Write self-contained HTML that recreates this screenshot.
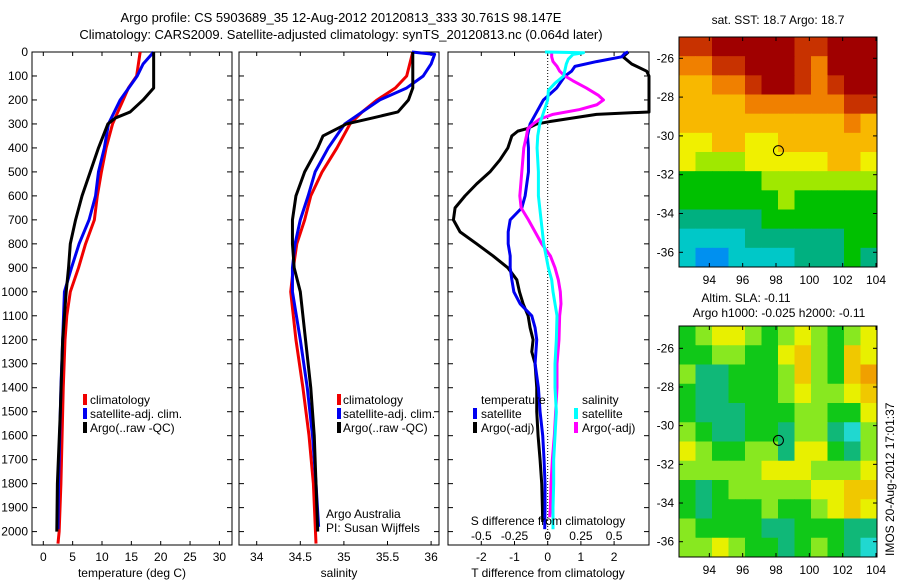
<!DOCTYPE html>
<html><head><meta charset="utf-8"><style>
html,body{margin:0;padding:0;background:#fff;}
svg{display:block;font-family:"Liberation Sans",sans-serif;}
</style></head><body>
<svg id="fig" width="900" height="580" viewBox="0 0 900 580">
<g font-size="13" text-anchor="middle">
<text x="341" y="22">Argo profile: CS 5903689_35 12-Aug-2012 20120813_333 30.761S 98.147E</text>
<text x="341" y="39">Climatology: CARS2009. Satellite-adjusted climatology: synTS_20120813.nc (0.064d later)</text>
</g>
<g id="root"></g>
</svg>
<script>
// ---------- data ----------
const tDepth = [0,50,100,150,200,250,300,400,500,600,700,800,900,1000,1100,1200,1400,1600,1800,2000,2050];
const tClim  = [16.5,16.2,15.9,14.5,13.6,12.7,11.8,10.7,9.9,9.2,8.7,7.2,6.0,4.6,4.0,3.7,3.4,3.2,3.0,2.7,2.5];
const tSatDepth = [0,50,100,200,300,400,500,600,700,800,900,1000,1200,1400,1600,1800,1990];
const tSat   = [18.8,17.0,16.0,13.1,11.1,10.4,9.4,8.9,7.8,6.1,4.8,3.6,3.3,3.0,2.8,2.6,2.5];
const tArgoDepth = [0,150,200,250,275,300,350,400,500,600,700,800,900,1000,1200,1500,1800,2000];
const tArgo  = [18.8,18.8,17.0,14.8,12.3,11.0,10.2,9.4,8.0,6.6,5.5,4.6,4.3,3.9,3.3,2.9,2.4,2.3];

const sClimDepth = [0,100,150,200,250,300,400,500,600,700,800,900,1000,1200,1400,1600,1800,2050];
const sClim = [35.79,35.72,35.59,35.38,35.21,35.07,34.92,34.75,34.62,34.55,34.46,34.42,34.39,34.45,34.53,34.60,34.65,34.68];
const sSatDepth = [0,10,50,100,150,200,250,300,400,500,600,700,800,900,1000,1200,1400,1600,1800,1980];
const sSat = [35.78,36.04,36.0,35.91,35.72,35.41,35.21,35.01,34.82,34.67,34.59,34.50,34.44,34.41,34.41,34.50,34.58,34.64,34.68,34.71];
const sArgoDepth = [0,150,200,250,275,300,350,400,500,600,700,800,900,1000,1200,1400,1600,1800,2000];
const sArgo = [35.79,35.79,35.74,35.62,35.33,35.03,34.76,34.70,34.55,34.45,34.41,34.41,34.43,34.50,34.56,34.62,34.66,34.68,34.70];

const dTArgoDepth = [0,20,50,80,100,250,260,290,300,320,330,350,400,450,500,550,600,650,700,750,800,850,900,950,1000,1050,1100,1150,1200,1250,1300,1400,1500,1600,1700,1800,1900,1960];
const dTArgo = [2.43,2.27,2.53,2.98,3.3,3.3,1.47,0.07,-0.33,-0.63,-0.9,-1.08,-1.2,-1.44,-1.74,-2.14,-2.49,-2.79,-2.84,-2.64,-2.14,-1.65,-1.2,-0.93,-0.85,-0.74,-0.59,-0.53,-0.44,-0.48,-0.38,-0.33,-0.33,-0.29,-0.23,-0.18,-0.16,-0.15];
const dTSatDepth = [0,5,20,40,60,80,100,150,200,250,300,350,400,500,600,650,700,750,800,850,900,950,1000,1050,1100,1150,1200,1300,1400,1500,1600,1700,1800,1900,1990];
const dTSat = [2.42,2.33,2.23,1.47,0.82,0.72,0.52,0.27,-0.13,-0.33,-0.53,-0.61,-0.58,-0.58,-0.68,-0.78,-1.13,-1.19,-1.19,-1.13,-1.13,-1.08,-1.02,-0.83,-0.48,-0.38,-0.33,-0.38,-0.28,-0.23,-0.15,-0.11,-0.08,-0.08,-0.09];
const dSSatDepth = [0,3,10,30,50,100,130,160,200,250,300,350,400,500,600,700,800,900,950,1000,1050,1100,1200,1300,1400,1500,1600,1700,1800,1900,1990];
const dSSat = [-0.02,0.27,0.19,0.155,0.14,0.12,0.055,0.005,0.0,-0.03,-0.06,-0.075,-0.08,-0.07,-0.07,-0.05,-0.03,0.005,0.03,0.04,0.055,0.07,0.065,0.055,0.055,0.065,0.055,0.045,0.045,0.04,0.04];
const dSArgoDepth = [0,20,40,60,80,100,120,150,180,200,220,240,260,280,300,320,350,400,500,600,650,700,750,800,850,900,950,1000,1050,1100,1200,1300,1400,1500,1600,1700,1800,1900,1940];
const dSArgo = [0.03,0.03,0.04,0.07,0.09,0.13,0.19,0.29,0.38,0.42,0.37,0.24,0.04,-0.06,-0.11,-0.15,-0.16,-0.18,-0.195,-0.21,-0.2,-0.145,-0.095,-0.045,0.02,0.055,0.08,0.095,0.1,0.09,0.085,0.07,0.07,0.06,0.05,0.035,0.025,0.02,0.015];

const depthTicks = [0,100,200,300,400,500,600,700,800,900,1000,1100,1200,1300,1400,1500,1600,1700,1800,1900,2000];
const tempTicks = [0,5,10,15,20,25,30];
const salTicks = [34,34.5,35,35.5,36];
const salTickLabels = ['34','34.5','35','35.5','36'];
const dTTicks = [-2,-1,0,1,2];
const dSTicks = [-0.5,-0.25,0,0.25,0.5];
const dSTickLabels = ['-0.5','-0.25','0','0.25','0.5'];

const lonTicks = [94,96,98,100,102,104];
const latTicks = [-26,-28,-30,-32,-34,-36];
const argoLon = 98.147, argoLat = -30.761;

const sstGrid = [
[9,9,10,10,10,10,10,9,9,10,10,10],
[8,8,9,9,10,10,10,9,8,10,10,10],
[7,7,8,8,9,10,10,9,8,9,10,10],
[7,7,7,7,8,8,8,8,8,8,9,9],
[7,7,7,7,7,7,7,7,7,7,8,7],
[6,6,7,7,6,6,7,7,7,7,7,7],
[6,5,5,5,6,6,6,6,6,7,7,6],
[4,4,4,4,4,5,5,5,5,5,5,5],
[4,4,4,4,4,4,5,4,4,4,4,4],
[3,3,3,3,3,4,4,4,4,4,4,4],
[2,2,2,2,3,3,3,3,3,3,4,4],
[2,1,1,2,2,2,2,3,3,3,4,3]];
const sstColors = ['#0050e0','#0090f0','#00c8c8','#00b080','#00c000','#a0e800','#f0f000','#f8b800','#f08000','#c83200','#a00000'];
const slaGrid = [
[2,3,4,4,3,2,3,4,3,2,3,4],
[2,2,3,3,2,2,4,5,3,2,5,4],
[3,1,1,2,2,2,3,5,3,2,5,6],
[2,1,1,2,2,2,3,4,3,3,4,5],
[2,1,1,1,2,2,2,3,3,2,2,4],
[3,2,1,1,2,2,1,3,3,1,0,3],
[4,3,2,2,3,3,1,4,4,2,1,3],
[3,3,3,3,3,4,4,4,3,3,3,4],
[2,1,2,3,3,3,3,3,4,4,5,5],
[2,1,2,2,2,3,2,2,3,4,5,4],
[3,2,2,2,2,1,1,2,2,2,1,1],
[3,3,4,3,2,2,1,2,3,2,1,0]];
const slaColors = ['#20d8d0','#10b878','#10c818','#88e820','#e8f000','#f0c800','#f0a000'];

// ---------- drawing ----------
const NS='http://www.w3.org/2000/svg';
const root=document.getElementById('root');
function mk(tag,attrs,parent){const e=document.createElementNS(NS,tag);for(const k in attrs)e.setAttribute(k,attrs[k]);(parent||root).appendChild(e);return e;}
const yTop=52, yBot=545;
function yD(d){return 52 + d*0.2398;}

function panel(x0,x1,name,xScale,ticks,labels,showY){
  const g=mk('g',{});
  
  
  const fr=mk('rect',{x:x0,y:yTop,width:x1-x0,height:yBot-yTop,fill:'none',stroke:'#000','stroke-width':1},g);
  
  
  depthTicks.forEach(d=>{
    const y=yD(d);
    mk('line',{x1:x0,x2:x0+5,y1:y,y2:y,stroke:'#000'},g);
    mk('line',{x1:x1-5,x2:x1,y1:y,y2:y,stroke:'#000'},g);
    if(showY){const t=mk('text',{x:x0-4,y:y+4,'font-size':12,'text-anchor':'end'},g);t.textContent=d;
      
      }
  });
  ticks.forEach((v,i)=>{
    const x=xScale(v);
    mk('line',{x1:x,x2:x,y1:yTop,y2:yTop+4,stroke:'#000'},g);
    mk('line',{x1:x,x2:x,y1:yBot-4,y2:yBot,stroke:'#000'},g);
    if(labels){const t=mk('text',{x:x,y:561,'font-size':12,'text-anchor':'middle'},g);t.textContent=labels[i];
      
      }
  });
  return g;
}
function line(g,xs,ds,xScale,color,name,x0,x1){
  const pts=xs.map((v,i)=>[Math.max(x0,Math.min(x1,xScale(v))),yD(ds[i])]);
  const p=mk('polyline',{points:pts.map(p=>p.join(',')).join(' '),fill:'none',stroke:color,'stroke-width':3,'stroke-linejoin':'round'},g);
  
  
}
function txt(g,x,y,s,name,opts){const t=mk('text',Object.assign({x:x,y:y,'font-size':12},opts||{}),g);t.textContent=s;
  
  return t;}
function legBar(g,x,y,c){const r=mk('rect',{x:x,y:y-10,width:4,height:11,fill:c},g);
  
  }

const xT=v=>43.3+v*5.87;
const g1=panel(32,232,'temperature-panel',xT,tempTicks,tempTicks.map(String),true);
line(g1,tClim,tDepth,xT,'#f00000','temp-climatology-line',32,232);
line(g1,tSat,tSatDepth,xT,'#0000f0','temp-satellite-line',32,232);
line(g1,tArgo,tArgoDepth,xT,'#000','temp-argo-line',32,232);
txt(g1,132,577,'temperature (deg C)','x-axis-title-temperature',{'text-anchor':'middle'});
legBar(g1,83,404,'#f00000');txt(g1,90,404,'climatology','legend-climatology');
legBar(g1,83,418,'#0000f0');txt(g1,90,418,'satellite-adj. clim.','legend-satellite');
legBar(g1,83,432,'#000');txt(g1,90,432,'Argo(..raw -QC)','legend-argo');

const xS=v=>256.7+(v-34)*87.2;
const g2=panel(239,439,'salinity-panel',xS,salTicks,salTickLabels,false);
line(g2,sClim,sClimDepth,xS,'#f00000','sal-climatology-line',239,439);
line(g2,sSat,sSatDepth,xS,'#0000f0','sal-satellite-line',239,439);
line(g2,sArgo,sArgoDepth,xS,'#000','sal-argo-line',239,439);
txt(g2,339,577,'salinity','x-axis-title-salinity',{'text-anchor':'middle'});
legBar(g2,337,404,'#f00000');txt(g2,343,404,'climatology','legend-climatology');
legBar(g2,337,418,'#0000f0');txt(g2,343,418,'satellite-adj. clim.','legend-satellite');
legBar(g2,337,432,'#000');txt(g2,343,432,'Argo(..raw -QC)','legend-argo');
txt(g2,326,518,'Argo Australia','credit-argo-australia');
txt(g2,326,532,'PI: Susan Wijffels','credit-pi');

const xDT=v=>547.7+v*33.2;
const xDS=v=>xDT(v*4);
const g3=panel(448,649,'difference-panel',xDT,dTTicks,dTTicks.map(String),false);
const z=mk('line',{x1:xDT(0),x2:xDT(0),y1:yTop,y2:yBot,stroke:'#000','stroke-dasharray':'1,2'},g3);


line(g3,dTArgo,dTArgoDepth,xDT,'#000','t-diff-argo-line',448,649);
line(g3,dTSat,dTSatDepth,xDT,'#0000f0','t-diff-satellite-line',448,649);
line(g3,dSArgo,dSArgoDepth,xDS,'#ff00ff','s-diff-argo-line',448,649);
line(g3,dSSat,dSSatDepth,xDS,'#00ffff','s-diff-satellite-line',448,649);
txt(g3,481,404,'temperature','legend-temperature-header');
legBar(g3,473,418,'#0000f0');txt(g3,481,418,'satellite','legend-t-satellite');
legBar(g3,473,432,'#000');txt(g3,481,432,'Argo(-adj)','legend-t-argo');
txt(g3,582,404,'salinity','legend-salinity-header');
legBar(g3,574,418,'#00ffff');txt(g3,582,418,'satellite','legend-s-satellite');
legBar(g3,574,432,'#ff00ff');txt(g3,582,432,'Argo(-adj)','legend-s-argo');
txt(g3,548,525,'S difference from climatology','s-axis-title',{'text-anchor':'middle'});
dSTicks.forEach((v,i)=>{txt(g3,xDS(v),540,dSTickLabels[i],'s-tick-label',{'text-anchor':'middle'});});
txt(g3,548,577,'T difference from climatology','x-axis-title-tdiff',{'text-anchor':'middle'});

function map(x0,x1,y0,y1,lat26,lat36,grid,colors,name,cell){
  const lonL=92.18,lonR=104.06;
  const ppd=(lat36-lat26)/10;
  const lx=v=>x0+(v-lonL)/(lonR-lonL)*(x1-x0);
  const ly=v=>lat26+(-26-v)*ppd;
  const latTop=-26+(lat26-y0)/ppd, latBot=-26-(y1-lat26)/ppd;
  const g=mk('g',{});
  
  
  const rows=grid.length, cols=grid[0].length;
  const dLon=(lonR-lonL)/cols, dLat=(latTop-latBot)/rows;
  grid.forEach((row,r)=>row.forEach((v,c)=>{
    const xa=lx(lonL+c*dLon), xb=lx(lonL+(c+1)*dLon);
    const ya=ly(latTop-r*dLat), yb=ly(latTop-(r+1)*dLat);
    const rc=mk('rect',{x:xa,y:ya,width:xb-xa+0.5,height:yb-ya+0.5,fill:colors[v]},g);
    
    
  }));
  const fr=mk('rect',{x:x0,y:y0,width:x1-x0,height:y1-y0,fill:'none',stroke:'#000'},g);
  
  
  lonTicks.forEach(v=>{const x=lx(v);
    mk('line',{x1:x,x2:x,y1:y0,y2:y0+4,stroke:'#000'},g);mk('line',{x1:x,x2:x,y1:y1-4,y2:y1,stroke:'#000'},g);
    txt(g,x,y1+17,String(v),'lon-tick-label',{'text-anchor':'middle'});});
  latTicks.forEach(v=>{const y=ly(v);
    mk('line',{x1:x0,x2:x0+4,y1:y,y2:y,stroke:'#000'},g);mk('line',{x1:x1-4,x2:x1,y1:y,y2:y,stroke:'#000'},g);
    txt(g,x0-5,y+4,String(v),'lat-tick-label',{'text-anchor':'end'});});
  const c=mk('circle',{cx:lx(argoLon),cy:ly(argoLat),r:5,fill:'none',stroke:'#000','stroke-width':1},g);
  
  
  return g;
}
const m1=map(679,877,37,267,58.3,252.3,sstGrid,sstColors,'sst-map','sst-cell');
txt(m1,778,24,'sat. SST: 18.7 Argo: 18.7','sst-map-title',{'text-anchor':'middle'});
const m2=map(679,877,326,557,348.3,541.7,slaGrid,slaColors,'sla-map','sla-cell');
txt(m2,746,302,'Altim. SLA: -0.11','sla-map-title',{'text-anchor':'middle'});
txt(m2,779,317,'Argo h1000: -0.025 h2000: -0.11','sla-map-subtitle',{'text-anchor':'middle'});
txt(root,0,0,'IMOS 20-Aug-2012 17:01:37','imos-timestamp',{transform:'translate(894,556) rotate(-90)'});
</script>
</body></html>
